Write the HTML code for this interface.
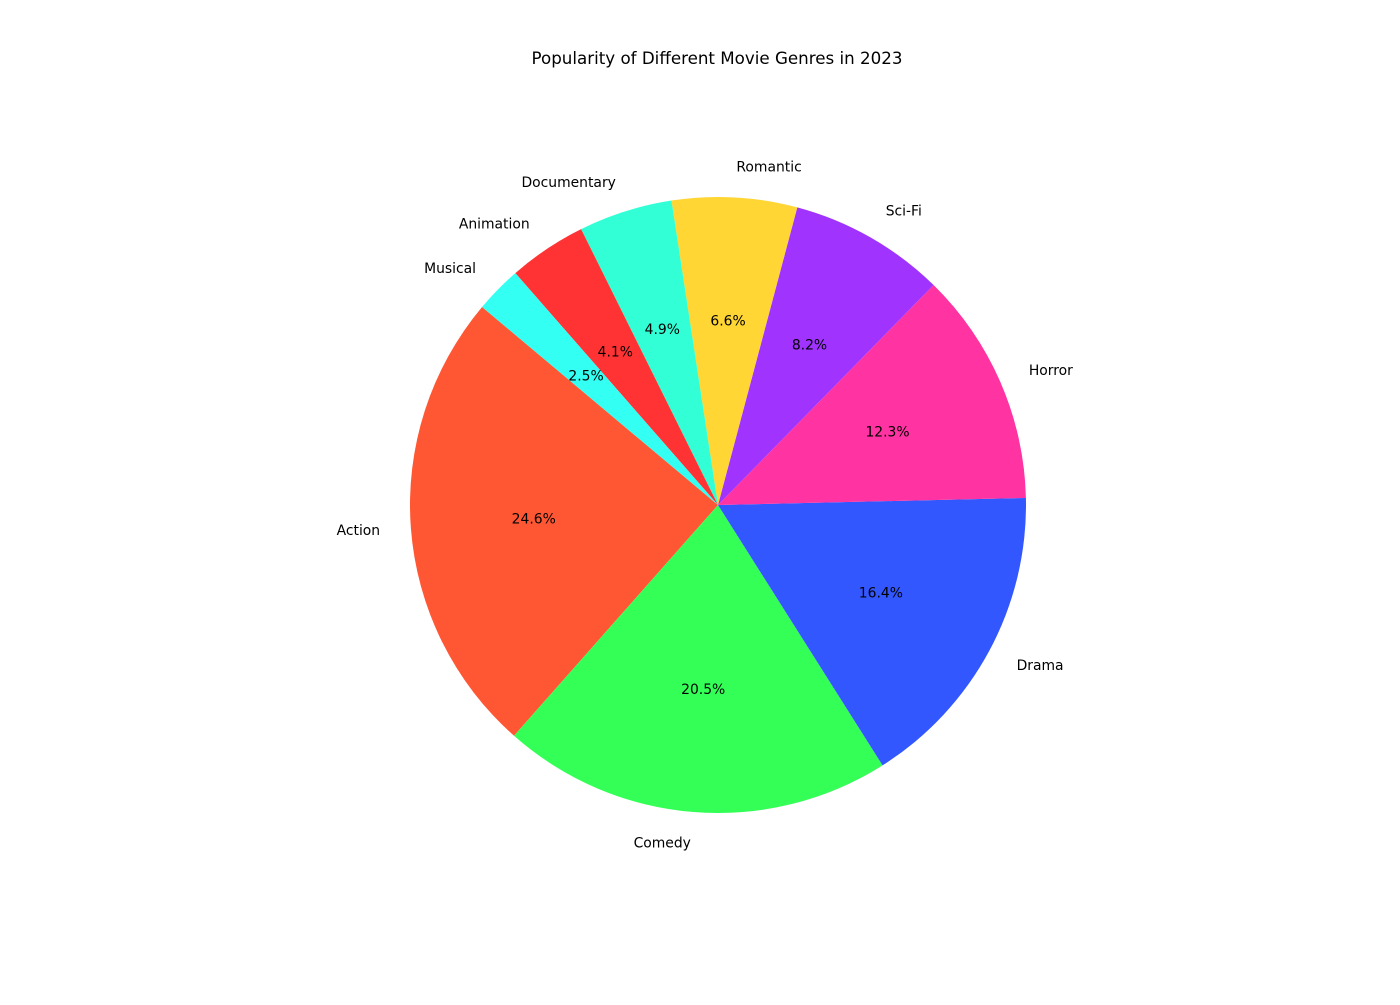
<!DOCTYPE html>
<html><head><meta charset="utf-8"><style>
body{margin:0;background:#fff}
svg text{font-family:"DejaVu Sans","Liberation Sans",sans-serif;font-size:13.9px;fill:#000}
</style></head><body>
<svg id="chart" width="1400" height="1000">
<rect width="1400" height="1000" fill="#fff"/>
<text x="717" y="64" text-anchor="middle" style="font-size:16.7px">Popularity of Different Movie Genres in 2023</text>
<g id="slices"></g><g id="labels"></g>
</svg>
<script>
const genres=["Action","Comedy","Drama","Horror","Sci-Fi","Romantic","Documentary","Animation","Musical"];
const popularity=[30,25,20,15,10,8,6,5,3];
const colors=["#FF5733","#33FF57","#3357FF","#FF33A1","#A133FF","#FFD633","#33FFD6","#FF3333","#33FFF3"];
const cx=718,cy=505,R=308,start=140;
const NS="http://www.w3.org/2000/svg";
const total=popularity.reduce((a,b)=>a+b,0);
let a0=start;
const gS=document.getElementById('slices'),gL=document.getElementById('labels');
function pt(a,r){const t=a*Math.PI/180;return [cx+r*Math.cos(t),cy-r*Math.sin(t)];}
popularity.forEach((v,i)=>{
  const sweep=v/total*360,a1=a0+sweep;
  const p0=pt(a0,R),p1=pt(a1,R);
  const p=document.createElementNS(NS,'path');
  p.setAttribute('d',`M${cx},${cy}L${p0[0]},${p0[1]}A${R},${R} 0 ${sweep>180?1:0} 0 ${p1[0]},${p1[1]}Z`);
  p.setAttribute('fill',colors[i]);
  
  
  gS.appendChild(p);
  const mid=(a0+a1)/2;
  const lp=pt(mid,R*1.1);
  const t=document.createElementNS(NS,'text');
  t.setAttribute('x',lp[0]);t.setAttribute('y',lp[1]+5);
  t.setAttribute('text-anchor',Math.cos(mid*Math.PI/180)<0?'end':'start');
  t.textContent=genres[i];
  
  
  gL.appendChild(t);
  const pp=pt(mid,R*0.6);
  const t2=document.createElementNS(NS,'text');
  t2.setAttribute('x',pp[0]);t2.setAttribute('y',pp[1]+5);
  t2.setAttribute('text-anchor','middle');
  t2.textContent=(v/total*100).toFixed(1)+'%';
  
  
  gL.appendChild(t2);
  a0=a1;
});
</script>
</body></html>
